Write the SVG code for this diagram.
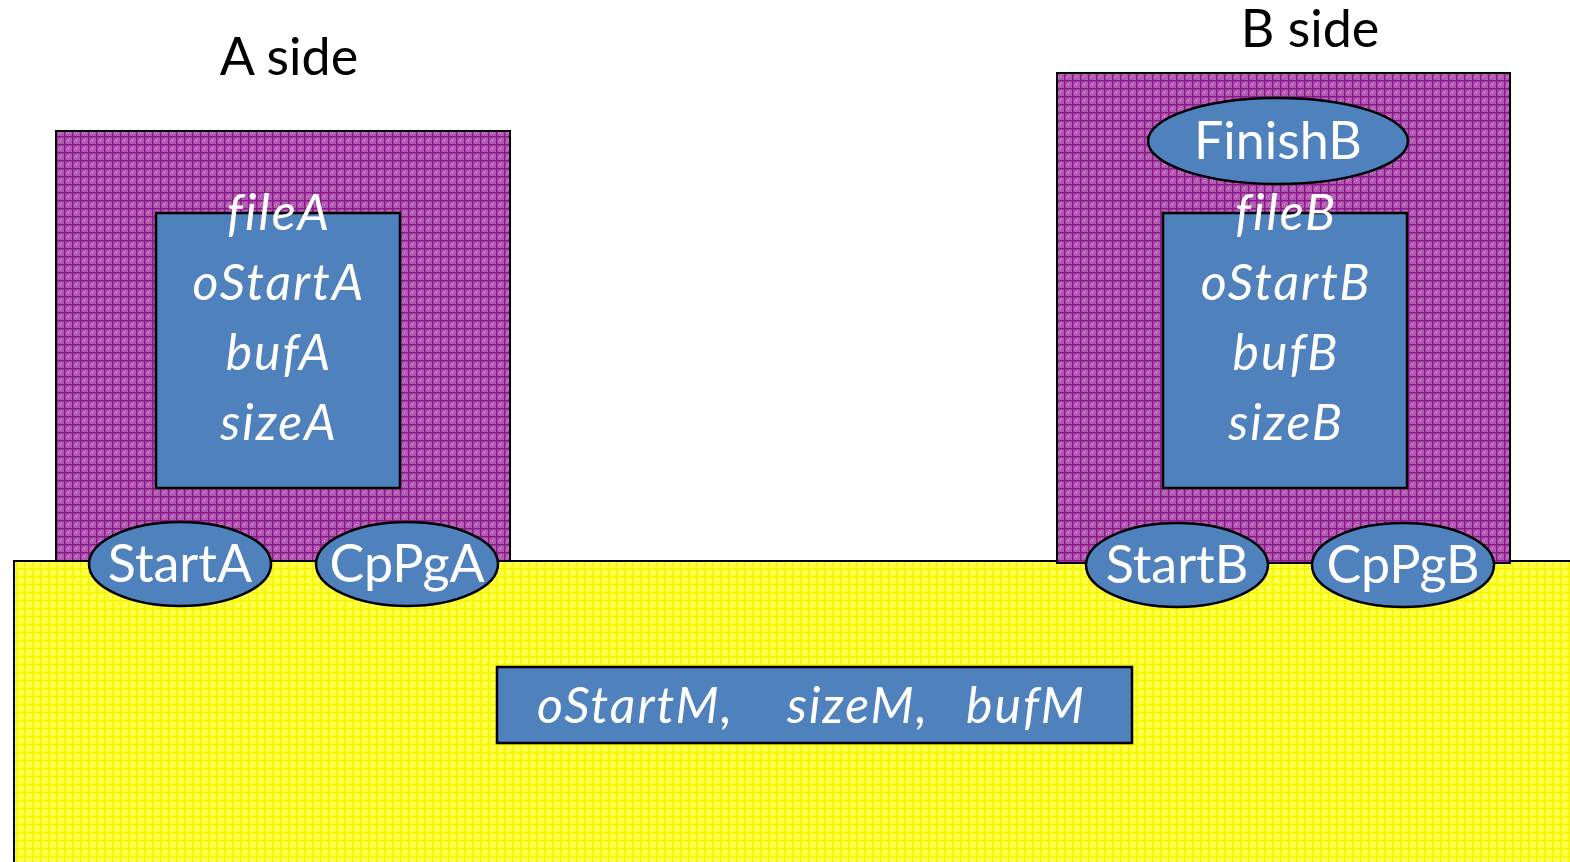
<svg xmlns="http://www.w3.org/2000/svg" width="1570" height="862" viewBox="0 0 1570 862">
  <defs>
    <!-- plaid textures for the two regions -->
    <pattern id="plaidPurple" width="8" height="8" patternUnits="userSpaceOnUse">
      <rect width="8" height="8" fill="#b25ab2"/>
      <rect x="0" y="0" width="8" height="1.5" fill="#8a1a8a"/>
      <rect x="0" y="0" width="1.5" height="8" fill="#8a1a8a"/>
      <rect x="4" y="4" width="1" height="1" fill="#e0b0e0"/>
      <rect x="2" y="5" width="1" height="1" fill="#d090d0"/>
      <rect x="5" y="2" width="1" height="1" fill="#d090d0"/>
    </pattern>
    <pattern id="plaidYellow" width="8" height="8" patternUnits="userSpaceOnUse">
      <rect width="8" height="8" fill="#ffff40"/>
      <rect x="0" y="0" width="8" height="1.5" fill="#f5f500"/>
      <rect x="0" y="0" width="1.5" height="8" fill="#f5f500"/>
      <rect x="4" y="4" width="1" height="1" fill="#ffffb0"/>
      <rect x="2" y="5" width="1" height="1" fill="#ffff90"/>
      <rect x="5" y="2" width="1" height="1" fill="#ffff90"/>
    </pattern>
  </defs>
  <style>
    .zone { stroke: #000; stroke-width: 2; }
    .blue { fill: #4f81bd; stroke: #000; stroke-width: 2.5; }
    .lbl { font-family: Lato, "Open Sans", "Liberation Sans", sans-serif; fill: #fff; font-size: 52px; text-anchor: middle; }
    .var { font-style: italic; font-size: 50px; letter-spacing: 2px; }
    .title { font-family: Lato, "Open Sans", "Liberation Sans", sans-serif; fill: #000; font-size: 52px; text-anchor: middle; }
  </style>

  <rect width="1570" height="862" fill="#fff"/>

  <!-- A side -->
  <g id="sideA">
    <text class="title" x="289" y="75">A side</text>
    <rect class="zone" x="56" y="131" width="454" height="432" fill="url(#plaidPurple)"/>
  </g>

  <!-- shared region -->
  <g id="shared">
    <rect class="zone" x="14" y="561" width="1570" height="310" fill="url(#plaidYellow)"/>
  </g>

  <!-- B side -->
  <g id="sideB">
    <text class="title" x="1310" y="47">B side</text>
    <rect class="zone" x="1057" y="73" width="453" height="490" fill="url(#plaidPurple)"/>
  </g>

  <g id="varsA">
    <rect class="blue" x="156" y="213" width="244" height="275"/>
    <text class="lbl var" x="279" y="230">fileA</text>
    <text class="lbl var" x="279" y="300">oStartA</text>
    <text class="lbl var" x="279" y="370">bufA</text>
    <text class="lbl var" x="279" y="440">sizeA</text>
  </g>

  <g id="varsB">
    <rect class="blue" x="1163" y="213" width="244" height="275"/>
    <text class="lbl var" x="1286" y="230">fileB</text>
    <text class="lbl var" x="1286" y="300">oStartB</text>
    <text class="lbl var" x="1286" y="370">bufB</text>
    <text class="lbl var" x="1286" y="440">sizeB</text>
  </g>

  <g id="finishB">
    <ellipse class="blue" cx="1278" cy="141" rx="130" ry="43"/>
    <text class="lbl" x="1278" y="159">FinishB</text>
  </g>

  <g id="startA">
    <ellipse class="blue" cx="180" cy="564" rx="91" ry="42"/>
    <text class="lbl" x="180" y="582">StartA</text>
  </g>

  <g id="cpPgA">
    <ellipse class="blue" cx="407" cy="564" rx="91" ry="42"/>
    <text class="lbl" x="407" y="582">CpPgA</text>
  </g>

  <g id="startB">
    <ellipse class="blue" cx="1177" cy="565" rx="91" ry="42"/>
    <text class="lbl" x="1177" y="583">StartB</text>
  </g>

  <g id="cpPgB">
    <ellipse class="blue" cx="1403" cy="565" rx="91" ry="42"/>
    <text class="lbl" x="1403" y="583">CpPgB</text>
  </g>

  <g id="varsM">
    <rect class="blue" x="497" y="667" width="635" height="76"/>
    <text class="lbl var" y="723" style="text-anchor:start"><tspan x="537">oStartM,</tspan><tspan x="787">sizeM,</tspan><tspan x="966">bufM</tspan></text>
  </g>

  <g id="connectors"/>
</svg>
